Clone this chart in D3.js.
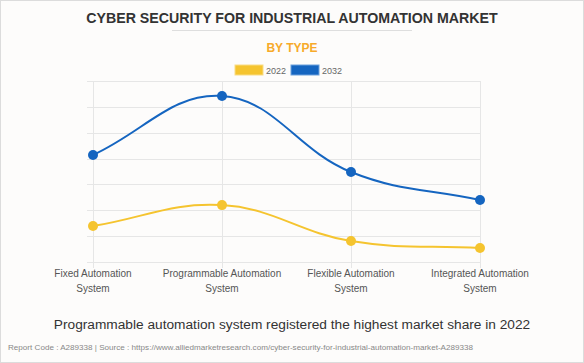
<!DOCTYPE html>
<html>
<head>
<meta charset="utf-8">
<script src="https://cdn.jsdelivr.net/npm/d3@7"></script>
<style>
  body { margin: 0; background: #fff; }
  svg { display: block; font-family: "Liberation Sans", Arial, sans-serif; }
</style>
</head>
<body>
<div id="chart"></div>
<script>
var categories = [["Fixed Automation", "System"], ["Programmable Automation", "System"],
                  ["Flexible Automation", "System"], ["Integrated Automation", "System"]];
var years = ["2022", "2032"];
var values2022 = [1.39, 2.2, 0.81, 0.54];
var values2032 = [4.14, 6.42, 3.48, 2.4];
var yTicks = [0, 1, 2, 3, 4, 5, 6, 7];

var width = 584, height = 363;
var colors = ["#f5c42f", "#1565c0"];

var svg = d3.select("#chart")
    .append("svg")
    .attr("width", width)
    .attr("height", height);

svg.append("rect")
    .attr("x", 0.5).attr("y", 0.5)
    .attr("width", width - 1).attr("height", height - 1)
    .style("fill", "#fdfcfb")
    .style("stroke", "#dcdcdc");

// titles
svg.append("text")
    .attr("x", width / 2).attr("y", 23)
    .attr("text-anchor", "middle")
    .style("font-size", "14.2px").style("font-weight", "bold")
    .style("fill", "#333")
    .text("CYBER SECURITY FOR INDUSTRIAL AUTOMATION MARKET");

svg.append("line")
    .attr("x1", 172).attr("x2", 412)
    .attr("y1", 30.5).attr("y2", 30.5)
    .style("stroke", "#dedede");

svg.append("text")
    .attr("x", width / 2).attr("y", 52)
    .attr("text-anchor", "middle")
    .style("font-size", "12px").style("font-weight", "bold")
    .style("fill", "#f7aa2a")
    .text("BY TYPE");

// legend
var legend = svg.selectAll(".legend")
    .data(years)
    .enter()
    .append("g")
    .attr("transform", function (d, i) { return "translate(" + (235 + i * 56) + ",65)"; });

legend.append("rect")
    .attr("width", 28).attr("height", 10)
    .style("fill", function (d, i) { return colors[i]; })
    .style("stroke", function (d, i) { return i ? "#6a9fdc" : "#f9dc85"; });

legend.append("text")
    .attr("x", 31).attr("y", 8.5)
    .style("font-size", "9px")
    .style("fill", "#666")
    .text(function (d) { return d; });

// scales
var x = d3.scalePoint()
    .domain(d3.range(categories.length))
    .range([93, 480]);

var y = d3.scaleLinear()
    .domain([0, 7])
    .range([262, 81]);

// grid
svg.selectAll(".hgrid")
    .data(yTicks)
    .enter()
    .append("line")
    .attr("x1", 87).attr("x2", 481)
    .attr("y1", function (d) { return Math.round(y(d)) + 0.5; })
    .attr("y2", function (d) { return Math.round(y(d)) + 0.5; })
    .style("stroke", "#e6e6e6");

svg.selectAll(".vgrid")
    .data(categories)
    .enter()
    .append("line")
    .attr("x1", function (d, i) { return Math.round(x(i)) + 0.5; })
    .attr("x2", function (d, i) { return Math.round(x(i)) + 0.5; })
    .attr("y1", y(7)).attr("y2", y(0) + 6)
    .style("stroke", "#e6e6e6");

// x labels
var xl = svg.selectAll(".xlabel")
    .data(categories)
    .enter()
    .append("text")
    .attr("text-anchor", "middle")
    .style("font-size", "10px")
    .style("fill", "#555");

xl.selectAll("tspan")
    .data(function (d, i) { return d.map(function (t) { return { t: t, i: i }; }); })
    .enter()
    .append("tspan")
    .attr("x", function (d) { return x(d.i); })
    .attr("y", function (d, j) { return 277 + j * 15; })
    .text(function (d) { return d.t; });

// chart.js style spline (tension 0.4)
function spline(pts, t) {
    var p = d3.path();
    var cps = pts.map(function (c, i) {
        var prev = pts[i - 1] || c, next = pts[i + 1] || c;
        var d01 = Math.hypot(c[0] - prev[0], c[1] - prev[1]);
        var d12 = Math.hypot(next[0] - c[0], next[1] - c[1]);
        var s01 = d01 / (d01 + d12), s12 = d12 / (d01 + d12);
        var fa = t * s01, fb = t * s12;
        return {
            prev: [c[0] - fa * (next[0] - prev[0]), c[1] - fa * (next[1] - prev[1])],
            next: [c[0] + fb * (next[0] - prev[0]), c[1] + fb * (next[1] - prev[1])]
        };
    });
    p.moveTo(pts[0][0], pts[0][1]);
    for (var i = 1; i < pts.length; i++) {
        p.bezierCurveTo(cps[i - 1].next[0], cps[i - 1].next[1],
            cps[i].prev[0], cps[i].prev[1], pts[i][0], pts[i][1]);
    }
    return p.toString();
}

var series = [values2022, values2032];

series.forEach(function (vals, s) {
    var pts = vals.map(function (v, i) { return [x(i), y(v)]; });
    svg.append("path")
        .attr("d", spline(pts, 0.4))
        .style("fill", "none")
        .style("stroke", colors[s])
        .style("stroke-width", 2);

    svg.selectAll(".dot" + s)
        .data(vals)
        .enter()
        .append("circle")
        .attr("cx", function (d, i) { return x(i); })
        .attr("cy", function (d) { return y(d); })
        .attr("r", 5)
        .style("fill", colors[s]);
});

// bottom texts
svg.append("text")
    .attr("x", width / 2).attr("y", 329)
    .attr("text-anchor", "middle")
    .style("font-size", "13.7px")
    .style("fill", "#333")
    .text("Programmable automation system registered the highest market share in 2022");

svg.append("text")
    .attr("x", 8).attr("y", 350)
    .style("font-size", "8.1px")
    .style("fill", "#888")
    .text("Report Code : A289338  |  Source : https://www.alliedmarketresearch.com/cyber-security-for-industrial-automation-market-A289338");
</script>
</body>
</html>
